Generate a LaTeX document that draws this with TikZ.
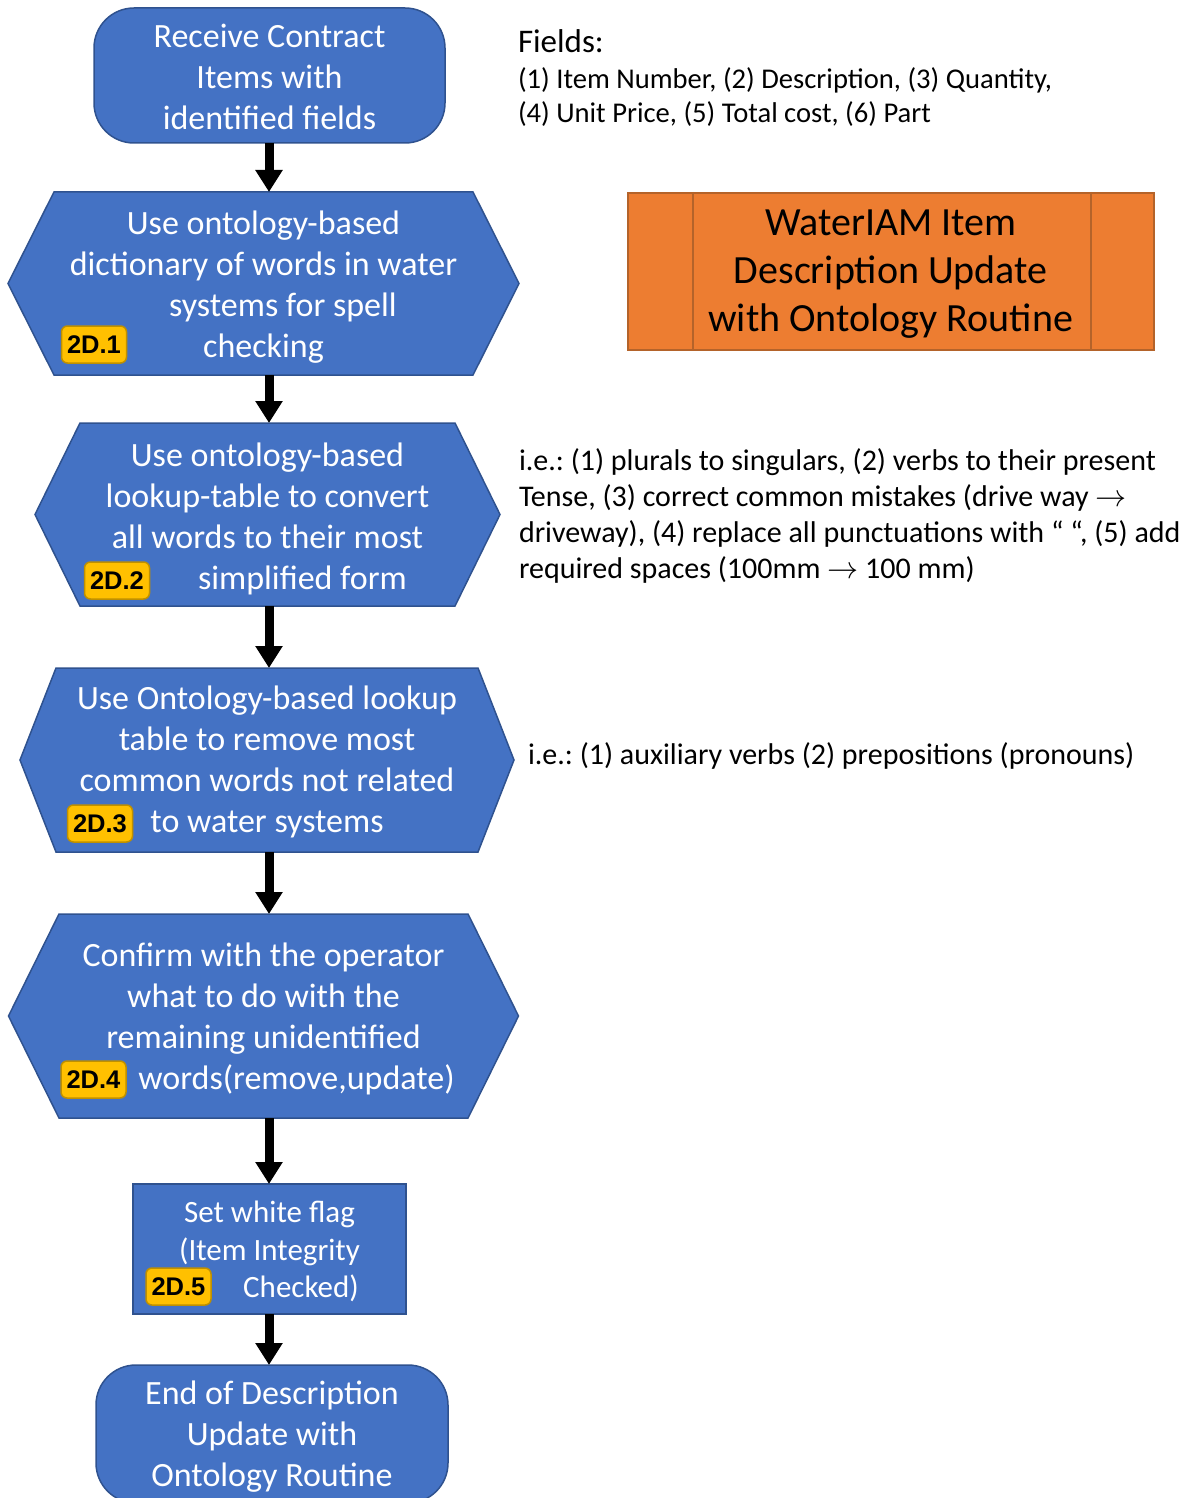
\documentclass[tikz,border=0pt]{standalone}
\usepackage{fontspec}
\setmainfont{Carlito}
\newfontfamily\badgefont{Liberation Sans}
\usetikzlibrary{arrows.meta,calc,backgrounds}
\frenchspacing

\definecolor{stepblue}{HTML}{4472C4}
\definecolor{stepedge}{HTML}{2F528F}
\definecolor{routineorange}{HTML}{ED7D31}
\definecolor{routineedge}{HTML}{B4632A}
\definecolor{tagyellow}{HTML}{FFC000}
\definecolor{tagedge}{HTML}{BF9000}

% hexagonal outline around a rectangular node: #1 node name, #2 tip offset
\newcommand\hexoutline[2]{%
  \draw[stepfill] ($(#1.west)+(-#2,0)$) -- (#1.north west) -- (#1.north east)
    -- ($(#1.east)+(#2,0)$) -- (#1.south east) -- (#1.south west) -- cycle;}
% centred lines, lowered by #1 inside the node without changing its size
\newcommand\lines[2]{\raisebox{-#1}[\height][\depth]{\begin{tabular}{@{}c@{}}#2\end{tabular}}}
\newcommand\toarrow{\scalebox{1.25}{$\rightarrow$}}

\begin{document}
\begin{tikzpicture}[x=1pt,y=1pt,
  stepfill/.style={fill=stepblue, draw=stepedge, line width=1.5pt},
  steptext/.style={text=white, font=\fontsize{34}{41}\selectfont,
                   inner sep=0pt, outer sep=0pt},
  hexbody/.style={steptext},
  terminal/.style={stepfill, steptext, rounded corners=40pt},
  badge/.style={fill=tagyellow, draw=tagedge, line width=1.5pt, rounded corners=6pt,
                minimum width=65pt, minimum height=37pt, inner sep=0pt, text=black,
                font=\badgefont\bfseries\fontsize{25.5}{30}\selectfont},
  routine/.style={fill=routineorange, draw=routineedge, line width=2pt, inner sep=0pt,
                  text=black, font=\fontsize{40}{48}\selectfont},
  note/.style={inner sep=0pt, outer sep=0pt, text=black, anchor=base west,
               font=\fontsize{30}{36}\selectfont},
  flow/.style={line width=9pt, -{Triangle[width=26pt,length=22pt]}}
]
\useasboundingbox (0,0) rectangle (1195,-1498);

% process steps
\node[terminal, minimum width=351pt, minimum height=135pt] (start) at (269.5,-75.5)
  {\lines{5pt}{Receive Contract\\Items with\\identified fields}};

\node[hexbody, minimum width=419pt, minimum height=183pt] (s1) at (263.5,-283.5)
  {\lines{4pt}{Use ontology-based\\dictionary of words in water\\\hspace*{39pt}systems for spell\\checking}};

\node[hexbody, minimum width=375pt, minimum height=183pt] (s2) at (267.5,-514.5)
  {\lines{5pt}{Use ontology-based\\lookup-table to convert\\all words to their most\\\hspace*{70pt}simplified form}};

\node[hexbody, minimum width=422pt, minimum height=184pt] (s3) at (267,-760)
  {\lines{3pt}{Use Ontology-based lookup\\table to remove most\\common words not related\\to water systems}};

\node[hexbody, minimum width=409pt, minimum height=204pt] (s4) at (263.5,-1016)
  {\lines{4pt}{Confirm with the operator\\what to do with the\\remaining unidentified\\\hspace*{66pt}words(remove,update)}};

\node[stepfill, steptext, font=\fontsize{31}{37.5}\selectfont,
      minimum width=273pt, minimum height=130pt] (s5) at (269.5,-1249)
  {\lines{3.5pt}{Set white flag\\(Item Integrity\\\hspace*{63pt}Checked)}};

\node[terminal, minimum width=352pt, minimum height=138pt] (finish) at (272,-1434)
  {\lines{3pt}{End of Description\\Update with\\Ontology Routine}};

\begin{scope}[on background layer]
  \hexoutline{s1}{46}
  \hexoutline{s2}{45}
  \hexoutline{s3}{36}
  \hexoutline{s4}{50.5}
\end{scope}

% step tags
\node[badge] (t1) at (94,-344.5) {2D.1};
\node[badge] (t2) at (117,-580.5) {2D.2};
\node[badge] (t3) at (100,-823.5) {2D.3};
\node[badge] (t4) at (93.5,-1079.5) {2D.4};
\node[badge] (t5) at (178.5,-1286.5) {2D.5};

% flow arrows
\coordinate (axis) at (269,0);
\draw[flow] (start.south -| axis) -- (s1.north -| axis);
\draw[flow] (s1.south -| axis) -- (s2.north -| axis);
\draw[flow] (s2.south -| axis) -- (s3.north -| axis);
\draw[flow] (s3.south -| axis) -- (s4.north -| axis);
\draw[flow] (s4.south -| axis) -- (s5.north -| axis);
\draw[flow] (s5.south -| axis) -- (finish.north -| axis);

% routine title block
\node[routine, minimum width=526.5pt, minimum height=157pt] (routine) at (890.75,-271.5)
  {\lines{2pt}{WaterIAM Item\\Description Update\\with Ontology Routine}};
\draw[routineedge, line width=2pt] ([xshift=66.5pt]routine.north west) -- ([xshift=66.5pt]routine.south west);
\draw[routineedge, line width=2pt] ([xshift=-64pt]routine.north east) -- ([xshift=-64pt]routine.south east);

% side notes
\node[note, font=\fontsize{33}{40}\selectfont] (fieldshead) at (518,-53) {Fields:};
\node[note, font=\fontsize{28.6}{34}\selectfont] (fieldslist) at (518,-89)
  {\begin{tabular}[t]{@{}l@{}}(1) Item Number, (2) Description, (3) Quantity,\\
   (4) Unit Price, (5) Total cost, (6) Part\end{tabular}};

\node[note] (simplify) at (519,-470)
  {\begin{tabular}[t]{@{}l@{}}i.e.: (1) plurals to singulars, (2) verbs to their present\\
   Tense, (3) correct common mistakes (drive way \toarrow\\
   driveway), (4) replace all punctuations with “ “, (5) add\\
   required spaces (100mm \toarrow{} 100 mm)\end{tabular}};

\node[note] (remove) at (528,-764)
  {i.e.: (1) auxiliary verbs (2) prepositions (pronouns)};
\end{tikzpicture}
\end{document}
